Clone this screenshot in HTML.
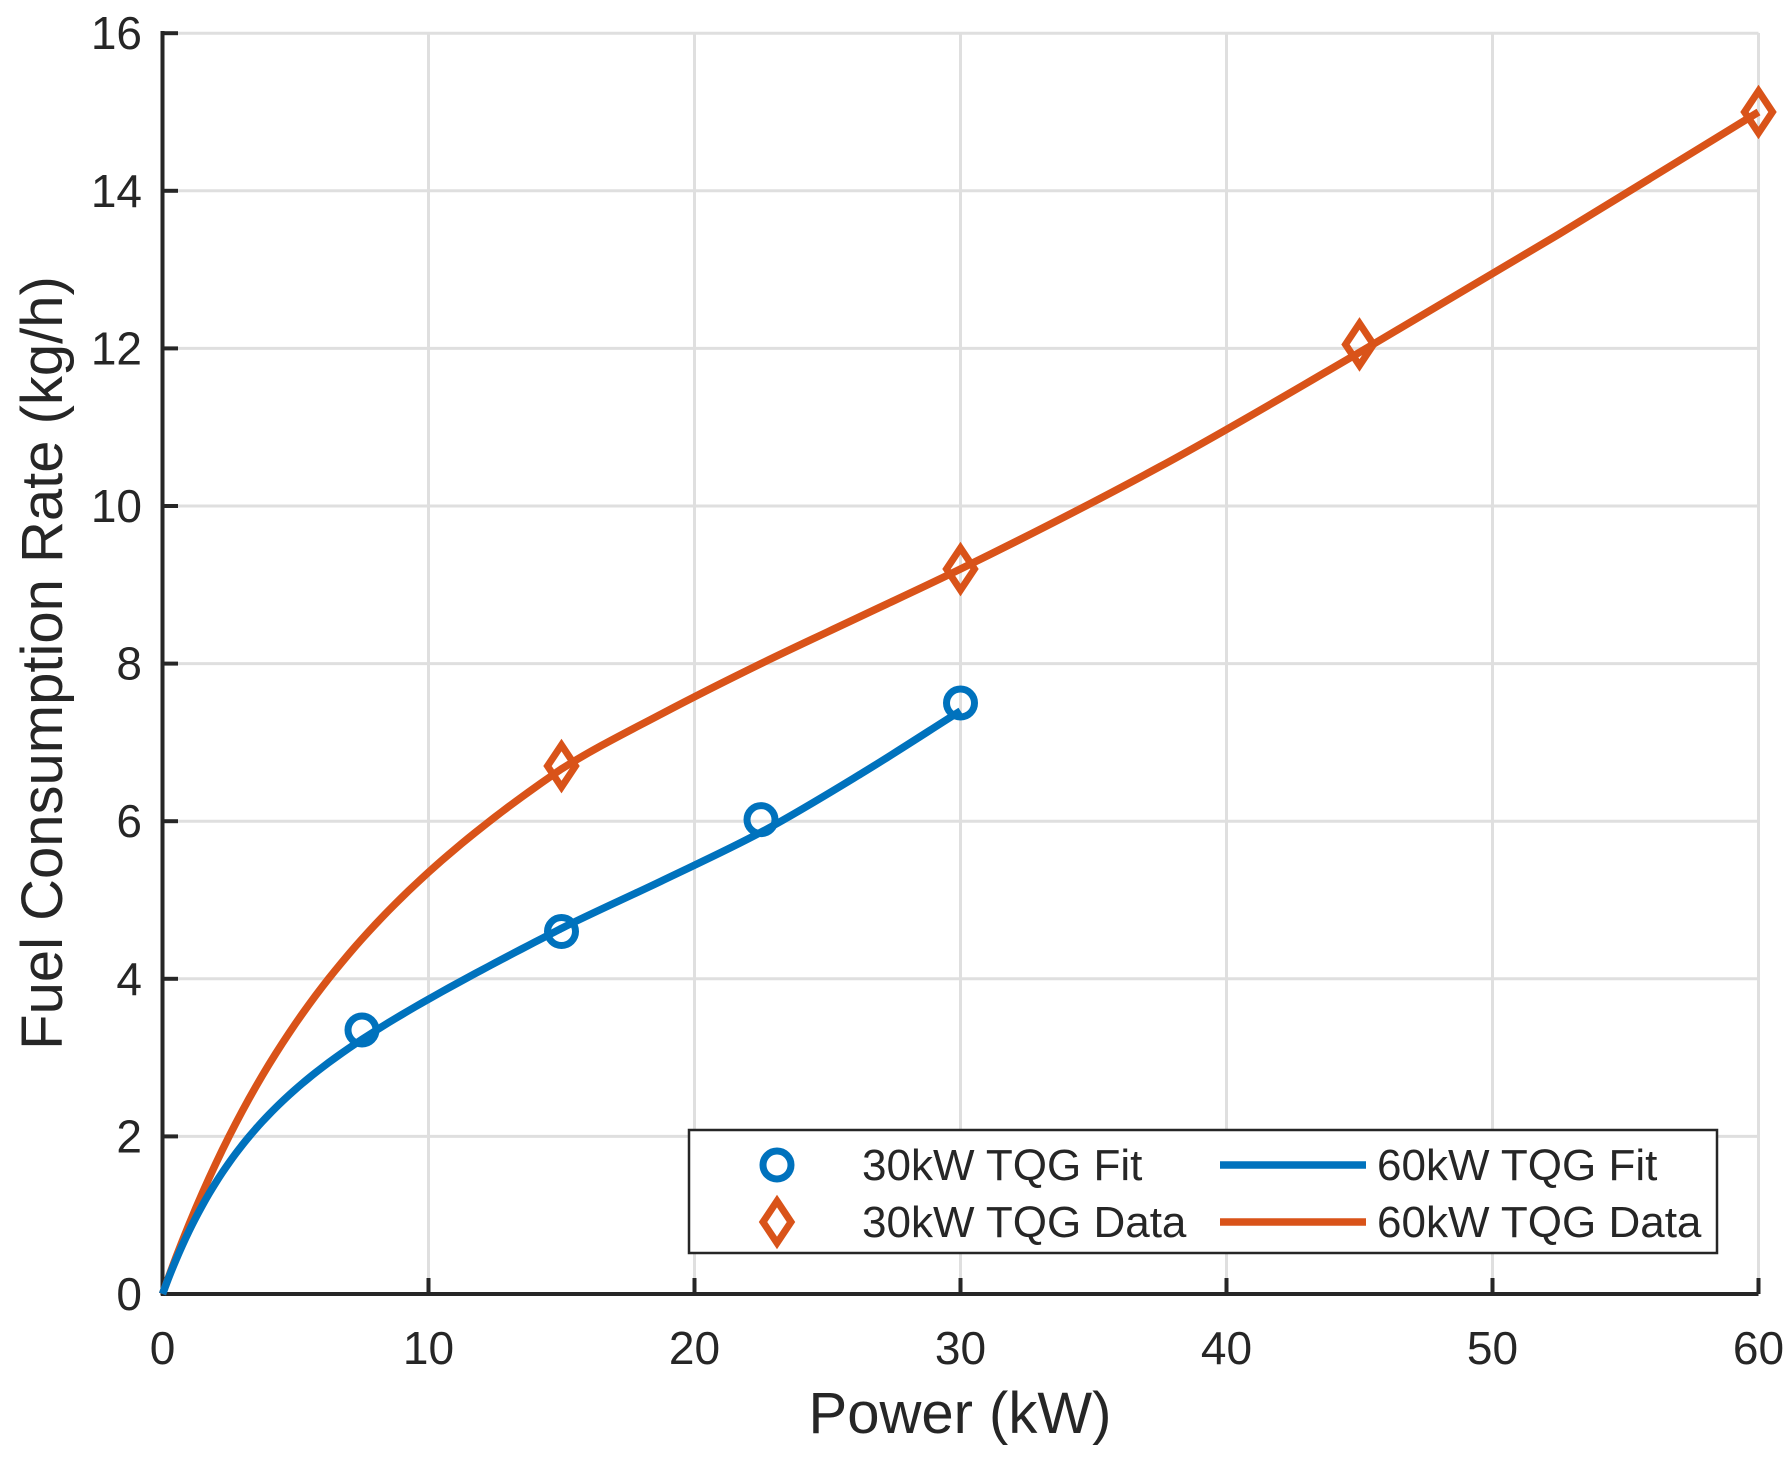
<!DOCTYPE html><html><head><style>body{margin:0;background:#fff}svg text{font-family:"Liberation Sans",sans-serif;fill:#262626}</style></head><body>
<svg id="s" width="1791" height="1460" xmlns="http://www.w3.org/2000/svg"></svg>
<script>
const s=document.getElementById('s');
const X=v=>162.5+v*26.6, Y=v=>1294-v*78.8;
let h='<rect width="1791" height="1460" fill="#fff"/>';
for(let i=10;i<=60;i+=10)h+=`<line x1="${X(i)}" y1="33" x2="${X(i)}" y2="1294" stroke="#dfdfdf" stroke-width="3"/>`;
for(let j=2;j<=16;j+=2)h+=`<line x1="162.5" y1="${Y(j)}" x2="${X(60)}" y2="${Y(j)}" stroke="#dfdfdf" stroke-width="3"/>`;
h+=`<line x1="162.5" y1="31" x2="162.5" y2="1295.5" stroke="#262626" stroke-width="4"/><line x1="161" y1="1294" x2="${X(60)}" y2="1294" stroke="#262626" stroke-width="4"/>`;
for(let i=0;i<=60;i+=10){h+=`<line x1="${X(i)}" y1="1294" x2="${X(i)}" y2="1278" stroke="#262626" stroke-width="4"/><text x="${X(i)}" y="1364" font-size="46" text-anchor="middle">${i}</text>`;}
for(let j=0;j<=16;j+=2){h+=`<line x1="162.5" y1="${Y(j)}" x2="178" y2="${Y(j)}" stroke="#262626" stroke-width="4"/><text x="142" y="${Y(j)+16}" font-size="46" text-anchor="end">${j}</text>`;}
h+=`<text x="960" y="1433" font-size="58" text-anchor="middle">Power (kW)</text>`;
h+=`<text transform="translate(62,663) rotate(-90)" font-size="58" text-anchor="middle">Fuel Consumption Rate (kg/h)</text>`;
function mono(p){const n=p.length,dx=[],m=[],t=[];for(let i=0;i<n-1;i++){dx[i]=p[i+1][0]-p[i][0];m[i]=(p[i+1][1]-p[i][1])/dx[i];}
t[0]=m[0];t[n-1]=m[n-2];for(let i=1;i<n-1;i++){t[i]=m[i-1]*m[i]<=0?0:(dx[i-1]+dx[i])*3/((2*dx[i]+dx[i-1])/m[i-1]+(dx[i]+2*dx[i-1])/m[i]);}
let d=`M${X(p[0][0])},${Y(p[0][1])}`;for(let i=0;i<n-1;i++){const h0=dx[i];d+=` C${X(p[i][0]+h0/3)},${Y(p[i][1]+t[i]*h0/3)} ${X(p[i+1][0]-h0/3)},${Y(p[i+1][1]-t[i+1]*h0/3)} ${X(p[i+1][0])},${Y(p[i+1][1])}`;}return d;}
const O=[],B=[];
for(let x=0;x<=15.001;x+=0.25){O.push([x,4.24*(1-Math.exp(-x/5.5))+0.18*x]);B.push([x,2.1*(1-Math.exp(-x/2.8))+0.17*x]);}
[[18.75,7.36],[22.5,8.0],[26.25,8.6],[30,9.2],[37.5,10.5],[45,11.95],[52.5,13.45],[60,15.0]].forEach(p=>O.push(p));
[[18.75,5.24],[22.5,5.86],[26.25,6.6],[30,7.4]].forEach(p=>B.push(p));
h+=`<path d="${mono(O)}" fill="none" stroke="#d95319" stroke-width="7.5"/>`;
h+=`<path d="${mono(B)}" fill="none" stroke="#0072bd" stroke-width="7.5"/>`;
[[7.5,3.35],[15,4.6],[22.5,6.02],[30,7.5]].forEach(p=>h+=`<circle cx="${X(p[0])}" cy="${Y(p[1])}" r="14" fill="none" stroke="#0072bd" stroke-width="7"/>`);
const dm=(x,y)=>`<path d="M${x},${y-21}L${x+14},${y}L${x},${y+21}L${x-14},${y}Z" fill="none" stroke="#d95319" stroke-width="7"/>`;
[[15,6.7],[30,9.2],[45,12.05],[60,15.0]].forEach(p=>h+=dm(X(p[0]),Y(p[1])));
h+=`<rect x="689" y="1130" width="1028" height="123" fill="#fff" stroke="#262626" stroke-width="2.5"/>`;
h+=`<circle cx="777" cy="1165" r="14" fill="none" stroke="#0072bd" stroke-width="7"/>`+dm(777,1222);
h+=`<text x="862" y="1180" font-size="44">30kW TQG Fit</text><text x="862" y="1237" font-size="44">30kW TQG Data</text>`;
h+=`<line x1="1220" y1="1165" x2="1366" y2="1165" stroke="#0072bd" stroke-width="7.5"/><line x1="1220" y1="1222" x2="1366" y2="1222" stroke="#d95319" stroke-width="7.5"/>`;
h+=`<text x="1377" y="1180" font-size="44">60kW TQG Fit</text><text x="1377" y="1237" font-size="44">60kW TQG Data</text>`;
s.innerHTML=h;
</script></body></html>
